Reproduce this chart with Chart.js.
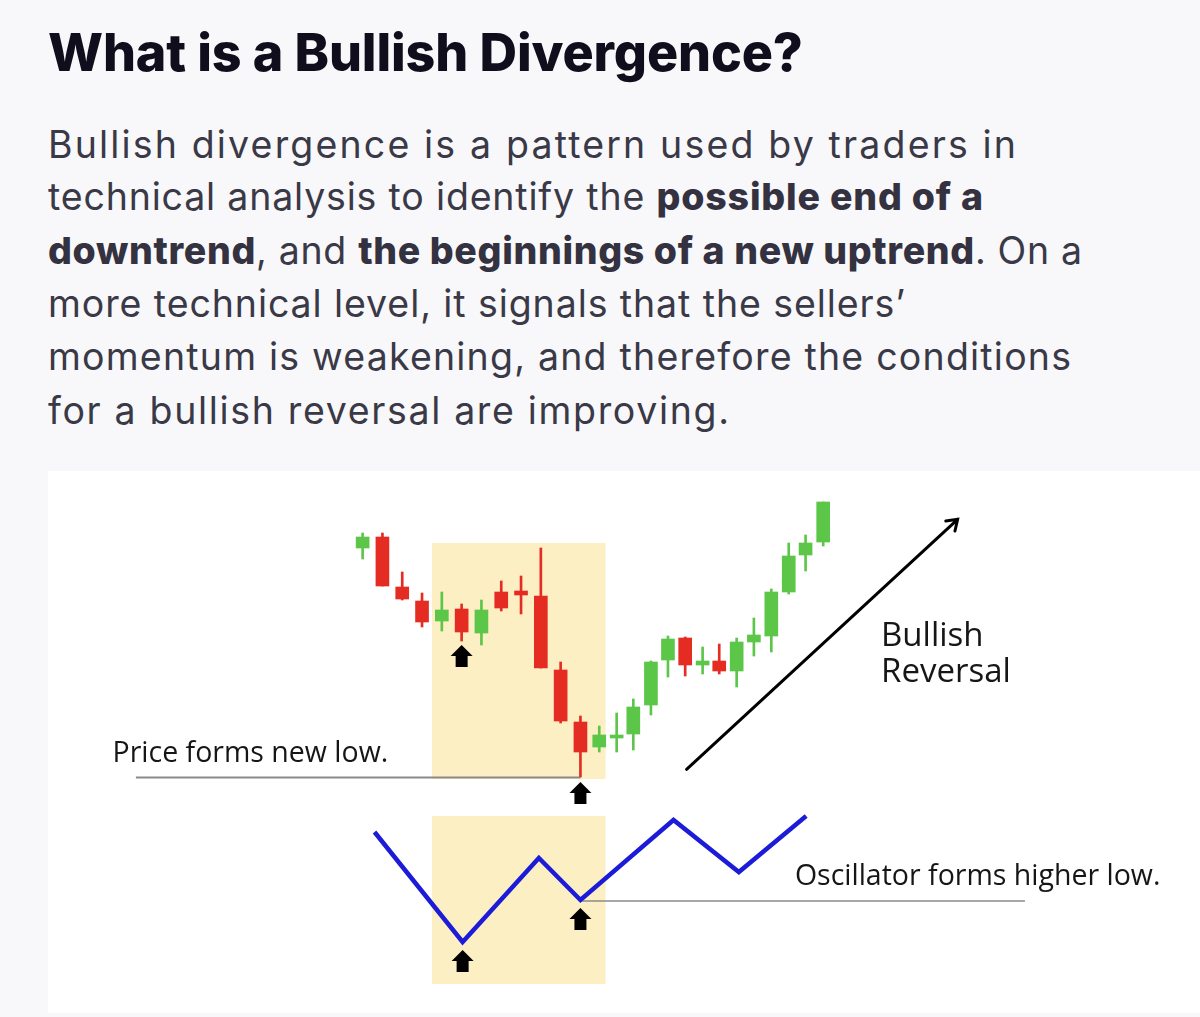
<!DOCTYPE html>
<html>
<head>
<meta charset="utf-8">
<script src="https://cdn.jsdelivr.net/npm/chart.js@4.4.1/dist/chart.umd.min.js"></script>
<style>
  html, body { margin: 0; padding: 0; }
  body { width: 1200px; height: 1017px; background: #f8f8fa; overflow: hidden; position: relative; font-family: Inter, "Noto Sans", sans-serif; }
  .fit { position: absolute; left: 48px; white-space: nowrap; display: inline-block; line-height: 1; }
  #title { font-size: 52px; font-weight: 800; color: #100e1c; top: 27px; }
  .line { font-size: 37.5px; color: #3a3947; }
  .line b { font-weight: 800; color: #343240; }
  #panel { position: absolute; left: 48px; top: 471px; width: 1152px; height: 542px; background: #fff; }
  #chart { display: block; }
</style>
</head>
<body>
<div id="title" class="fit" data-w="755">What is a Bullish Divergence?</div>
<div class="line fit" data-w="968" style="top:126px">Bullish divergence is a pattern used by traders in</div>
<div class="line fit" data-w="935" style="top:178px">technical analysis to identify the <b>possible end of a</b></div>
<div class="line fit" data-w="1034" style="top:232px"><b>downtrend</b>, and <b>the beginnings of a new uptrend</b>. On a</div>
<div class="line fit" data-w="857" style="top:285px">more technical level, it signals that the sellers’</div>
<div class="line fit" data-w="1023" style="top:338px">momentum is weakening, and therefore the conditions</div>
<div class="line fit" data-w="681" style="top:392px">for a bullish reversal are improving.</div>

<div id="panel"><canvas id="chart" width="1152" height="542"></canvas></div>

<script>
// candle data (session index, then OHLC)
const sessions = [0, 1, 2, 3, 4, 5, 6, 7, 8, 9, 10, 11, 11.95, 12.83, 13.67, 14.56, 15.42, 16.29, 17.17, 18.01, 18.89, 19.76, 20.64, 21.52, 22.37, 23.26];
const opens  = [252, 263, 213, 199, 179, 191, 167, 208, 209, 204, 130, 78, 53, 62, 66, 95, 140, 162, 135, 139, 129, 158, 164, 208, 245, 258];
const highs  = [267, 267, 228, 207, 208, 196, 200, 219, 224, 252, 138, 84, 74, 87, 101, 139, 164, 163, 153, 156, 162, 182, 211, 257, 265, 298];
const lows   = [241, 214, 200, 173, 169, 159, 155, 189, 186, 132, 77, 23, 48, 48, 50, 85, 123, 124, 126, 126, 113, 144, 148, 206, 229, 254];
const closes = [263, 214, 201, 178, 190, 168, 190, 192, 205, 132, 79, 48, 65, 65, 93, 138, 161, 135, 139, 129, 158, 165, 208, 244, 257, 298];

// oscillator swing points
const oscSessions = [0.6, 5.05, 8.9, 11, 15.7, 19, 22.4];
const oscValues   = [84, 29, 71, 50, 90, 64, 92];

// divergence zone
const zoneSessions = [3.5, 12.27];
const zonePrice = [21, 257];
const zoneOsc = [8, 92];

const RED = '#e42c22';
const GREEN = '#5cc648';
const candleColors = opens.map((o, i) => closes[i] >= o ? GREEN : RED);

function fitLines() {
  document.querySelectorAll('.fit').forEach(el => {
    el.style.letterSpacing = '0px';
    const w = el.getBoundingClientRect().width;
    const n = el.textContent.length;
    el.style.letterSpacing = ((+el.dataset.w - w) / (n - 1)) + 'px';
  });
}

function upArrow(ctx, cx, top) {
  ctx.beginPath();
  ctx.moveTo(cx, top);
  ctx.lineTo(cx - 11, top + 11);
  ctx.lineTo(cx + 11, top + 11);
  ctx.closePath();
  ctx.fill();
  ctx.fillRect(cx - 6, top + 10, 12, 12);
}

const overlay = {
  id: 'overlay',
  beforeDatasetsDraw(chart) {
    const { ctx } = chart;
    const { x, y, osc } = chart.scales;
    const x0 = x.getPixelForValue(zoneSessions[0]);
    const x1 = x.getPixelForValue(zoneSessions[1]);
    ctx.save();
    ctx.fillStyle = '#fcefc4';
    let top = y.getPixelForValue(zonePrice[1]);
    ctx.fillRect(x0, top, x1 - x0, y.getPixelForValue(zonePrice[0]) - top);
    top = osc.getPixelForValue(zoneOsc[1]);
    ctx.fillRect(x0, top, x1 - x0, osc.getPixelForValue(zoneOsc[0]) - top);

    // guide lines to the two lows
    ctx.strokeStyle = '#8a8a8a';
    ctx.lineWidth = 2;
    const lowY = Math.round(y.getPixelForValue(lows[11])) + 0.5;
    ctx.beginPath();
    ctx.moveTo(x.getPixelForValue(-11.45), lowY);
    ctx.lineTo(x.getPixelForValue(sessions[11]), lowY);
    ctx.stroke();
    ctx.lineWidth = 1.5;
    const oscY = Math.round(osc.getPixelForValue(oscValues[3])) + 1;
    ctx.beginPath();
    ctx.moveTo(x.getPixelForValue(oscSessions[3]), oscY);
    ctx.lineTo(x.getPixelForValue(33.45), oscY);
    ctx.stroke();
    ctx.restore();
  },
  afterDatasetsDraw(chart) {
    const { ctx } = chart;
    const { x, y, osc } = chart.scales;
    ctx.save();
    ctx.fillStyle = '#000';
    upArrow(ctx, x.getPixelForValue(sessions[5]), y.getPixelForValue(lows[5]) + 4);
    upArrow(ctx, x.getPixelForValue(sessions[11]), y.getPixelForValue(lows[11]) + 5);
    upArrow(ctx, x.getPixelForValue(oscSessions[1]), osc.getPixelForValue(oscValues[1]) + 8);
    upArrow(ctx, x.getPixelForValue(oscSessions[3]), osc.getPixelForValue(oscValues[3]) + 8);

    // bullish reversal arrow
    const ax = x.getPixelForValue(16.36), ay = y.getPixelForValue(30.7);
    const bx = x.getPixelForValue(30.05), by = y.getPixelForValue(280.7);
    const ang = Math.atan2(by - ay, bx - ax);
    ctx.strokeStyle = '#000';
    ctx.lineWidth = 3;
    ctx.lineCap = 'round';
    ctx.beginPath();
    ctx.moveTo(ax, ay);
    ctx.lineTo(bx, by);
    ctx.moveTo(bx - 12 * Math.cos(ang - 0.6), by - 12 * Math.sin(ang - 0.6));
    ctx.lineTo(bx, by);
    ctx.lineTo(bx - 12 * Math.cos(ang + 0.6), by - 12 * Math.sin(ang + 0.6));
    ctx.stroke();

    // labels
    ctx.fillStyle = '#161616';
    ctx.textBaseline = 'alphabetic';
    ctx.font = '28.5px "Open Sans"';
    ctx.fillText('Price forms new low.', x.getPixelForValue(-12.63), y.getPixelForValue(38.3));
    ctx.fillText('Oscillator forms higher low.', x.getPixelForValue(21.83), osc.getPixelForValue(57.5));
    ctx.font = '33px "Open Sans"';
    ctx.fillText('Bullish', x.getPixelForValue(26.18), y.getPixelForValue(154));
    ctx.fillText('Reversal', x.getPixelForValue(26.18), y.getPixelForValue(118.3));
    ctx.restore();
  }
};

function renderDivergenceChart() {
  const ctx = document.getElementById('chart').getContext('2d');
  new Chart(ctx, {
    type: 'bar',
    data: {
      datasets: [
        {
          label: 'Body',
          data: sessions.map((s, i) => ({ x: s, y: [opens[i], closes[i]] })),
          backgroundColor: candleColors,
          barThickness: 13,
          minBarLength: 3,
          grouped: false,
          order: 1
        },
        {
          label: 'Wick',
          data: sessions.map((s, i) => ({ x: s, y: [lows[i], highs[i]] })),
          backgroundColor: candleColors,
          barThickness: 2,
          grouped: false,
          order: 2
        },
        {
          type: 'line',
          label: 'Oscillator',
          data: oscSessions.map((s, i) => ({ x: s, y: oscValues[i] })),
          yAxisID: 'osc',
          borderColor: '#1c1cd8',
          borderWidth: 4.5,
          borderJoinStyle: 'miter',
          pointRadius: 0,
          tension: 0,
          order: 0
        }
      ]
    },
    options: {
      responsive: false,
      devicePixelRatio: 1,
      animation: false,
      events: [],
      layout: { padding: 0 },
      plugins: {
        legend: { display: false },
        tooltip: { enabled: false }
      },
      scales: {
        x: { type: 'linear', min: -15.89, max: 42.29, offset: false, display: false },
        y: { min: -213, max: 329, display: false },
        osc: { min: -6.5, max: 264.5, display: false }
      }
    },
    plugins: [overlay]
  });
}

document.fonts.ready.then(() => {
  fitLines();
  renderDivergenceChart();
});
</script>
</body>
</html>
